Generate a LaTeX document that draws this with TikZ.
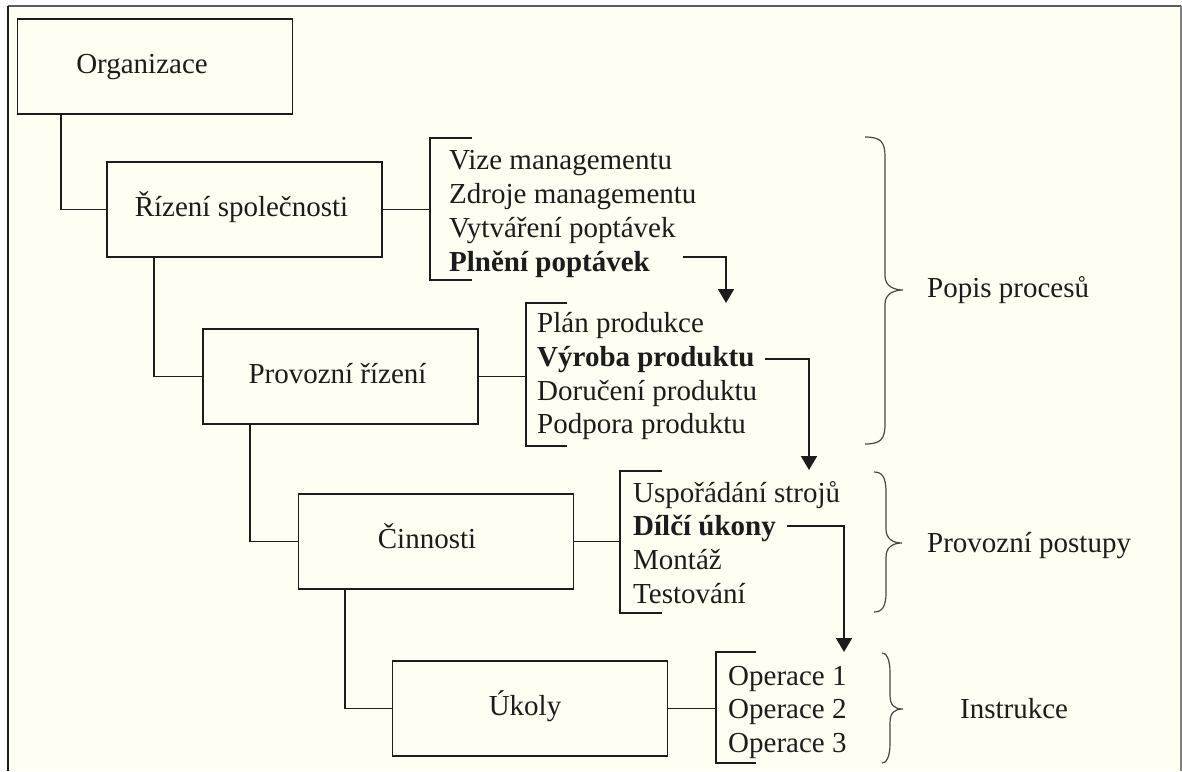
\documentclass[tikz,border=0pt]{standalone}
\usepackage{fontspec}
\setmainfont{Liberation Serif}
\usetikzlibrary{arrows.meta}

\definecolor{paper}{RGB}{255,254,242}
\definecolor{ink}{RGB}{28,28,28}
\definecolor{bracegray}{RGB}{72,72,72}
\definecolor{framegray}{RGB}{90,90,90}

% curly brace: #1 end x, #2 spine x, #3 tip x, #4 top y, #5 tip y, #6 bottom y
\newcommand\curlybrace[6]{%
  \draw[curly] (#1,#4) .. controls (#2-4,#4) and (#2,#4+5) .. (#2,#4+20)
    -- (#2,#5-14) .. controls (#2,#5-4) and (#3-9,#5) .. (#3,#5)
    .. controls (#3-9,#5) and (#2,#5+4) .. (#2,#5+14)
    -- (#2,#6-20) .. controls (#2,#6-5) and (#2-4,#6) .. (#1,#6);}

\begin{document}
\begin{tikzpicture}[x=1pt, y=-1pt,
  font=\fontsize{29}{34}\selectfont,
  box/.style={draw=ink, line width=1.8pt, minimum width=275pt, minimum height=95pt,
    inner sep=0pt, text height=20pt, text depth=6pt, text=ink},
  item/.style={anchor=base west, inner sep=0pt, text=ink},
  link/.style={draw=ink, line width=1.8pt},
  flow/.style={link, -{Triangle[width=16pt,length=14pt]}},
  curly/.style={draw=bracegray, line width=1.2pt},
  tag/.style={anchor=west, inner sep=0pt, text height=20pt, text depth=6pt, text=ink}]

\useasboundingbox (0,0) rectangle (1182,771);
\fill[white] (0,0) rectangle (1182,771);
\fill[paper] (8,6) rectangle (1181,771);
\draw[line width=1.5pt, draw=framegray] (8,6) -- (1181,6);
\draw[line width=1.8pt, draw=ink] (8,6) -- (8,771);
\draw[line width=1.3pt, draw=gray] (1181,6) -- (1181,771);

% hierarchy of boxes
\node[box] (org)  at (155,66.5)  {Organizace\hspace*{26pt}};
\node[box] (riz)  at (244.5,209.5) {Řízení společnosti\hspace*{6pt}};
\node[box] (prov) at (340.5,376.5) {Provozní řízení\hspace*{6pt}};
\node[box] (cinn) at (436,541.5) {Činnosti\hspace*{18pt}};
\node[box] (ukol) at (530,708.5) {Úkoly\hspace*{10pt}};

\draw[link] ([xshift=44pt]org.south west)  |- (riz.west);
\draw[link] ([xshift=48pt]riz.south west)  |- (prov.west);
\draw[link] ([xshift=48pt]prov.south west) |- (cinn.west);
\draw[link] ([xshift=47pt]cinn.south west) |- (ukol.west);

% bracket corners
\coordinate (b1t) at (430,138); \coordinate (b1b) at (430,280);
\coordinate (b2t) at (526,303); \coordinate (b2b) at (526,446);
\coordinate (b3t) at (620,471); \coordinate (b3b) at (620,613);
\coordinate (b4t) at (716,652); \coordinate (b4b) at (716,763);

\draw[link] ([xshift=42pt]b1t) -- (b1t) -- (b1b) -- ([xshift=42pt]b1b);
\draw[link] ([xshift=41pt]b2t) -- (b2t) -- (b2b) -- ([xshift=41pt]b2b);
\draw[link] ([xshift=42pt]b3t) -- (b3t) -- (b3b) -- ([xshift=42pt]b3b);
\draw[link] ([xshift=40pt]b4t) -- (b4t) -- (b4b) -- ([xshift=40pt]b4b);

\draw[link] (riz.east)  -- (riz.east -| b1t);
\draw[link] (prov.east) -- (prov.east -| b2t);
\draw[link] (cinn.east) -- (cinn.east -| b3t);
\draw[link] (ukol.east) -- (ukol.east -| b4t);

% item lists
\node[item] (r1) at (449,169) {Vize managementu};
\node[item] (r2) at (449,203) {Zdroje managementu};
\node[item] (r3) at (449,237) {Vytváření poptávek};
\node[item] (r4) at (449,271) {\bfseries Plnění poptávek};

\node[item] (p1) at (537,332) {Plán produkce};
\node[item] (p2) at (537,366) {\bfseries Výroba produktu};
\node[item] (p3) at (537,400) {Doručení produktu};
\node[item] (p4) at (537,433) {Podpora produktu};

\node[item] (c1) at (633,502) {Uspořádání strojů};
\node[item] (c2) at (633,535) {\bfseries Dílčí úkony};
\node[item] (c3) at (633,569) {Montáž};
\node[item] (c4) at (633,603) {Testování};

\node[item] (u1) at (728,685) {Operace 1};
\node[item] (u2) at (728,718) {Operace 2};
\node[item] (u3) at (728,752) {Operace 3};

% flow arrows between levels
\coordinate (a1) at (726,303);
\coordinate (a2) at (809,470);
\coordinate (a3) at (844,652);
\draw[flow] ([xshift=33pt,yshift=14pt]r4.base east) -| (a1);
\draw[flow] ([xshift=10pt,yshift=7pt]p2.base east)  -| (a2);
\draw[flow] ([xshift=11pt,yshift=9pt]c2.base east)  -| (a3);

% braces with group names
\curlybrace{865}{885}{903}{137}{290}{444}
\curlybrace{874}{886}{902}{472}{543}{612}
\curlybrace{882}{890}{903}{653}{709}{763}

\node[tag] (g1) at (927,290) {Popis procesů};
\node[tag] (g2) at (927,545) {Provozní postupy};
\node[tag] (g3) at (960,711) {Instrukce};

\end{tikzpicture}
\end{document}
